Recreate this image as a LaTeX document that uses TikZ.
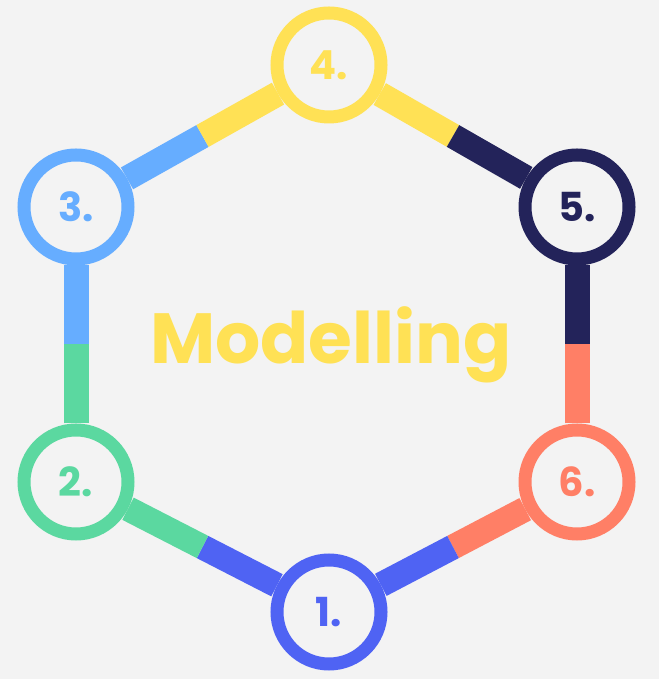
\documentclass[tikz,border=0pt]{standalone}
\usepackage{fontspec}
\setmainfont{Poppins}
\usetikzlibrary{calc}
\definecolor{bgGray}{HTML}{F3F3F3}
\definecolor{cViolet}{HTML}{4F63F3}
\definecolor{cGreen}{HTML}{5BD8A0}
\definecolor{cBlue}{HTML}{66ADFF}
\definecolor{cYellow}{HTML}{FFE155}
\definecolor{cNavy}{HTML}{23235A}
\definecolor{cOrange}{HTML}{FF7F66}
\begin{document}
\begin{tikzpicture}[x=1pt, y=1pt, line width=25pt,
	main/.style = {draw, circle, line width=13pt, minimum size=104pt, fill=bgGray, font=\fontsize{40}{40}\selectfont\bfseries}]
		\fill[bgGray] (0,0) rectangle (659,679);
		\node[main, draw=cViolet, text=cViolet] (1) at (329,67) {1.};
		\node[main, draw=cGreen, text=cGreen] (2) at (76,197) {2.};
		\node[main, draw=cBlue, text=cBlue] (3) at (76,472) {3.};
		\node[main, draw=cYellow, text=cYellow] (4) at (329,614) {4.};
		\node[main, draw=cNavy, text=cNavy] (5) at (577,472) {5.};
		\node[main, draw=cOrange, text=cOrange] (6) at (577,197) {6.};
		\node[text=cYellow, font=\fontsize{71}{71}\selectfont\bfseries, anchor=base] (title) at (331,315) {Modelling};
		\path
			(1) edge [cViolet] ($(1)!.5!(2)$)
			(2) edge [cGreen] ($(2)!.5!(1)$)
			(2) edge [cGreen] ($(2)!.5!(3)$)
			(3) edge [cBlue] ($(3)!.5!(2)$)
			(3) edge [cBlue] ($(3)!.5!(4)$)
			(4) edge [cYellow] ($(4)!.5!(3)$)
			(4) edge [cYellow] ($(4)!.5!(5)$)
			(5) edge [cNavy] ($(5)!.5!(4)$)
			(5) edge [cNavy] ($(5)!.5!(6)$)
			(6) edge [cOrange] ($(6)!.5!(5)$)
			(6) edge [cOrange] ($(6)!.5!(1)$)
			(1) edge [cViolet] ($(1)!.5!(6)$);
	\end{tikzpicture}
\end{document}
